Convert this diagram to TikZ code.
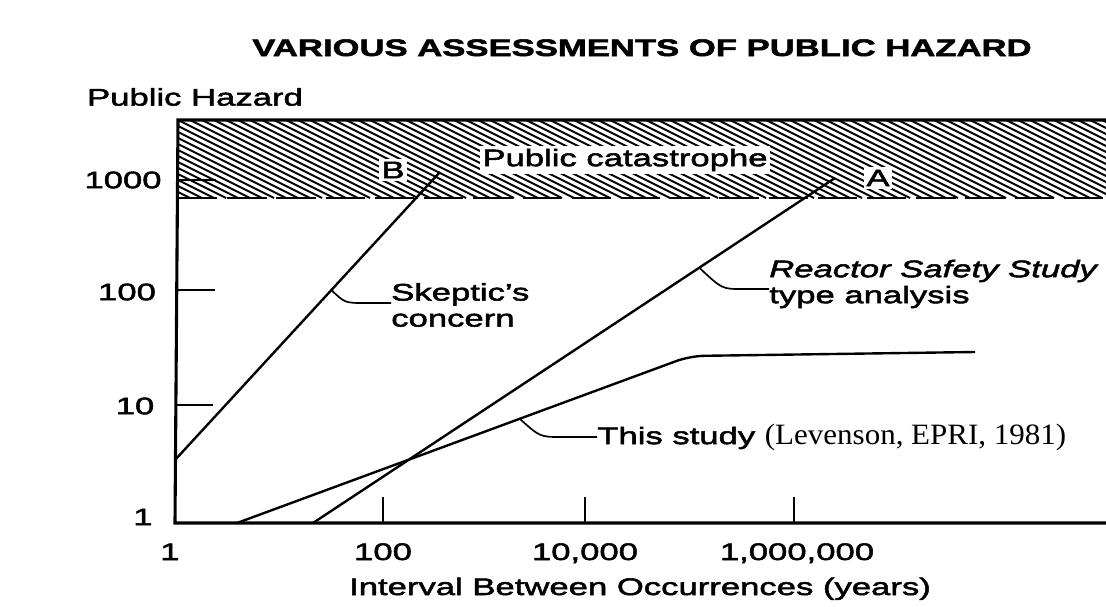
\documentclass[tikz,border=0pt]{standalone}
\usepackage{fontspec}
\setmainfont{Liberation Sans}[FakeStretch=1.45,FakeBold=2.2]
\newfontfamily\handfont{Liberation Serif}[FakeStretch=1.05]

\begin{document}
\begin{tikzpicture}[x=0.025cm,y=-0.025cm,
  every node/.style={font=\fontsize{17}{18.5}\selectfont,inner sep=0pt},
  curve/.style={line width=1.7pt},
  leader/.style={line width=1.2pt},
  inband/.style={fill=white,inner sep=2pt}]
\useasboundingbox (0,0) rectangle (1106,606);
% hatched band (public catastrophe)
\begin{scope}
\clip (178,120) rectangle (1106,198);
\foreach \x in {22,34,...,1106} \draw[line width=1.4pt] (\x,120) -- ++(156,78);
\end{scope}
\draw[line width=2pt,dash pattern=on 28pt off 7pt] (178,198) -- (1106,198);
% axes and ticks
\draw[line width=2.2pt] (1106,120) -- (178,120) -- (175,523) -- (1106,523);
\draw[line width=1.6pt] (178,180) -- (216,180) (178,290) -- (215,290) (177,405) -- (213,405);
\draw[line width=1.6pt] (383,523) -- (383,497) (585,523) -- (585,497) (794,523) -- (794,497);
% axis labels
\node (ylab) at (195,97) {Public Hazard};
\node (y3) at (123,180) {1000};
\node (y2) at (127,292) {100};
\node (y1) at (135,406) {10};
\node (y0) at (143,517) {1};
\node[anchor=base] (x0) at (170,560) {1};
\node[anchor=base] (x2) at (383,560) {100};
\node[anchor=base] (x4) at (585,560) {10,000};
\node[anchor=base] (x6) at (797,560) {1,000,000};
\node[anchor=base] (xlab) at (640,595) {Interval Between Occurrences (years)};
\node[anchor=base,font=\fontsize{17}{20}\selectfont\bfseries] (title) at (642,56) {VARIOUS ASSESSMENTS OF PUBLIC HAZARD};
% band labels
\node[inband] (cat) at (625,160) {Public catastrophe};
\node[inband] (labB) at (393,170) {B};
\node[inband] (labA) at (878,178) {A};
% the three curves
\draw[curve] (175,460) -- (440,172) coordinate[pos=0.59] (onB);
\draw[curve] (313,523) -- (835,178) coordinate[pos=0.74] (onA);
\draw[curve,rounded corners=10pt] (237,523) -- (690,356) -- (975,352);
\coordinate (onS) at (520,419);
% curve labels
\node[anchor=west,align=left] (skep) at (391,305) {Skeptic's\\concern};
\node[anchor=west,align=left] (rss) at (769,284) {\itshape Reactor Safety Study\\type analysis};
\node[anchor=west] (this) at (597,437) {This study {\handfont\fontsize{21}{22}\selectfont(Levenson, EPRI, 1981)}};
\draw[leader] (onB) .. controls (345,303) .. (365,303) -- (skep.west |- 0,303);
\draw[leader] (onA) .. controls (722,289) .. (742,289) -- (rss.west |- 0,289);
\draw[leader] (onS) .. controls (540,437) .. (562,437) -- (this.west);
\end{tikzpicture}
\end{document}
